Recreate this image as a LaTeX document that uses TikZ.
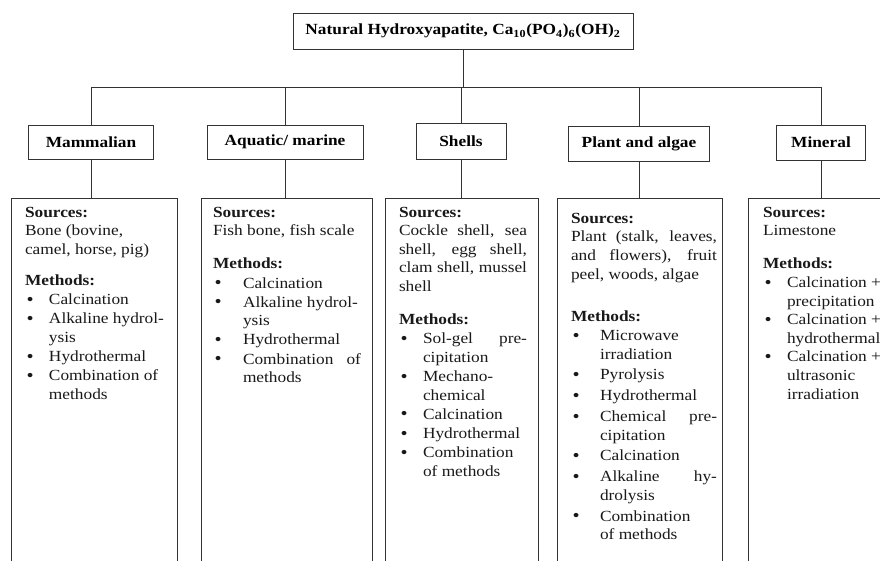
\documentclass[tikz,border=0pt]{standalone}
\usepackage{fontspec}
\setmainfont{Liberation Serif}[FakeStretch=1.12]
\newdimen\bxW \newdimen\bxI \newdimen\bxX \newdimen\bxG
\newcommand\Ln[1]{\hbox{#1}}
\newcommand\Lj[1]{\hbox to \bxW{#1}}
\newcommand\Bu{\hbox to \bxI{\hskip1.2pt\raisebox{-0.5pt}{\fontsize{13.5pt}{13.5pt}\selectfont\textbullet}\hss}}
\newcommand\Bi[1]{\vskip\bxX\hbox{\Bu #1}}
\newcommand\Bj[1]{\vskip\bxX\hbox to \bxW{\Bu #1}}
\newcommand\Ci[1]{\hbox{\hskip\bxI #1}}
\newcommand\Gap{\vskip\bxG}
% #1 width, #2 indent, #3 baselineskip, #4 extra before items, #5 extra gap, #6 content
\newcommand\Blk[6]{\vtop{\bxW=#1\bxI=#2\baselineskip=#3\bxX=#4\bxG=#5\lineskiplimit=-20pt\relax #6}}
\tikzset{
  ln/.style={line width=0.7pt, draw=black!80},
  catbox/.style={ln, draw, rectangle, inner sep=0pt, outer sep=0pt, font=\fontsize{11.6}{14}\selectfont\bfseries},
  lowbox/.style={ln, draw, rectangle, inner sep=0pt, outer sep=0pt, anchor=north west, minimum height={420*0.75pt}},
  txt/.style={inner sep=0pt, outer sep=0pt, anchor=base west, font=\fontsize{11.6}{14}\selectfont, text=black!90}
}
\begin{document}
\begin{tikzpicture}[x=0.75pt, y=-0.75pt]
\path[use as bounding box] (0,0) rectangle (880,560);
\clip (0,0) rectangle (880,560);
\fill[white] (0,0) rectangle (880,560);
% top
\node[catbox, minimum width={340*0.75pt}, minimum height={36*0.75pt}] (top) at (463,31)
  {Natural Hydroxyapatite, Ca\textsubscript{10}(PO\textsubscript{4})\textsubscript{6}(OH)\textsubscript{2}};
% categories
\node[catbox, minimum width={125*0.75pt}, minimum height={34*0.75pt}] (mam) at (91,142) {Mammalian};
\node[catbox, minimum width={156*0.75pt}, minimum height={34*0.75pt}] (aqu) at (285,142) {Aquatic/ marine};
\node[catbox, minimum width={90*0.75pt}, minimum height={36*0.75pt}] (she) at (461,141) {Shells};
\node[catbox, minimum width={141*0.75pt}, minimum height={35*0.75pt}] (pla) at (639,143.5) {Plant and algae};
\node[catbox, minimum width={89*0.75pt}, minimum height={35*0.75pt}] (min) at (821,142.5) {Mineral};
% lower boxes
\node[lowbox, minimum width={166*0.75pt}] (mamL) at (11,198) {};
\node[lowbox, minimum width={171*0.75pt}] (aquL) at (201,198) {};
\node[lowbox, minimum width={153*0.75pt}] (sheL) at (385,198) {};
\node[lowbox, minimum width={165*0.75pt}] (plaL) at (557,198) {};
\node[lowbox, minimum width={165*0.75pt}] (minL) at (748,198) {};
% connectors
\coordinate (bus) at (463,87);
\draw[ln] (top.south) -- (top.south |- bus);
\draw[ln] (mam.north) -- (mam.north |- bus) -- (min.north |- bus) -- (min.north);
\foreach \n in {aqu,she,pla} \draw[ln] (\n.north) -- (\n.north |- bus);
\foreach \n in {mam,aqu,she,pla,min} \draw[ln] (\n.south) -- (\n.south |- \n L.north);
% texts
\node[txt] (mamT) at (25,217) {\Blk{105pt}{18pt}{13.95pt}{0.4pt}{9.5pt}{%
  \Ln{\textbf{Sources:}}
  \Ln{Bone (bovine,}
  \Ln{camel, horse, pig)}
  \Gap
  \Ln{\textbf{Methods:}}
  \Bi{Calcination}
  \Bi{Alkaline hydrol-}
  \Ci{ysis}
  \Bi{Hydrothermal}
  \Bi{Combination of}
  \Ci{methods}}};
\node[txt] (aquT) at (213,217) {\Blk{111pt}{22.5pt}{13.95pt}{0.4pt}{11pt}{%
  \Ln{\textbf{Sources:}}
  \Ln{Fish bone, fish scale}
  \Gap
  \Ln{\textbf{Methods:}}
  \Bi{Calcination}
  \Bi{Alkaline hydrol-}
  \Ci{ysis}
  \Bi{Hydrothermal}
  \Bj{Combination of}
  \Ci{methods}}};
\node[txt] (sheT) at (399,217) {\Blk{96pt}{18pt}{13.95pt}{0.4pt}{11pt}{%
  \Ln{\textbf{Sources:}}
  \Lj{Cockle shell, sea}
  \Lj{shell, egg shell,}
  \Lj{clam shell, mussel}
  \Ln{shell}
  \Gap
  \Ln{\textbf{Methods:}}
  \Bj{Sol-gel pre-}
  \Ci{cipitation}
  \Bi{Mechano-}
  \Ci{chemical}
  \Bi{Calcination}
  \Bi{Hydrothermal}
  \Bi{Combination}
  \Ci{of methods}}};
\node[txt] (plaT) at (571,223) {\Blk{109.5pt}{21.75pt}{14pt}{1.6pt}{18pt}{%
  \Ln{\textbf{Sources:}}
  \Lj{Plant (stalk, leaves,}
  \Lj{and flowers), fruit}
  \Ln{peel, woods, algae}
  \Gap
  \Ln{\textbf{Methods:}}
  \Ln{\Bu Microwave}
  \Ci{irradiation}
  \Bi{Pyrolysis}
  \Bi{Hydrothermal}
  \Bj{Chemical pre-}
  \Ci{cipitation}
  \Bi{Calcination}
  \Bj{Alkaline hy-}
  \Ci{drolysis}
  \Bi{Combination}
  \Ci{of methods}}};
\node[txt] (minT) at (763,217) {\Blk{120pt}{18pt}{13.95pt}{0pt}{11pt}{%
  \Ln{\textbf{Sources:}}
  \Ln{Limestone}
  \Gap
  \Ln{\textbf{Methods:}}
  \Bi{Calcination +}
  \Ci{precipitation}
  \Bi{Calcination +}
  \Ci{hydrothermal}
  \Bi{Calcination +}
  \Ci{ultrasonic}
  \Ci{irradiation}}};
\end{tikzpicture}
\end{document}
